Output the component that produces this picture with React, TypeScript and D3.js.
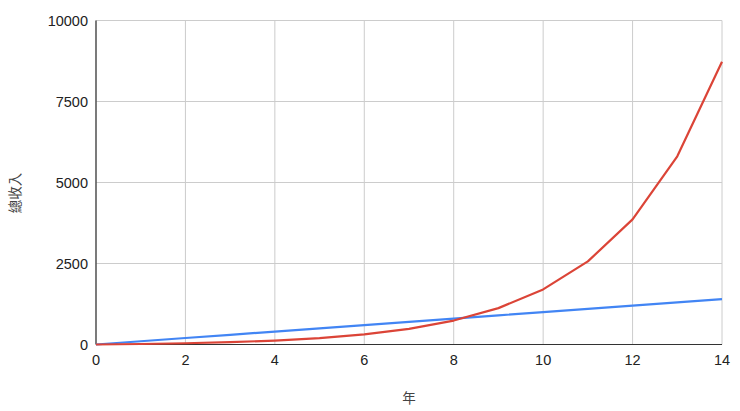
import React from "react";
import * as d3 from "d3";

const years = [0, 1, 2, 3, 4, 5, 6, 7, 8, 9, 10, 11, 12, 13, 14];
const linearIncome = [0, 100, 200, 300, 400, 500, 600, 700, 800, 900, 1000, 1100, 1200, 1300, 1400];
const compoundIncome = [0, 15, 38, 71, 122, 198, 312, 483, 739, 1123, 1700, 2565, 3862, 5808, 8727];
const xTicks = [0, 2, 4, 6, 8, 10, 12, 14];
const yTicks = [0, 2500, 5000, 7500, 10000];
const xTitle = "年";
const yTitle = "總收入";

const W = 740;
const H = 411;
const L = 96;
const R = 722;
const T = 20.5;
const B = 344.5;
const FONT = "Arial, 'Liberation Sans', sans-serif";

export default function App() {
  const x = d3.scaleLinear().domain([0, 14]).range([L, R]);
  const y = d3.scaleLinear().domain([0, 10000]).range([B, T]);
  const line = d3
    .line<number>()
    .x((_, i) => x(years[i]))
    .y((d) => y(d));

  return (
    <svg
      width={W}
      height={H}
      style={{ position: "absolute", left: 0, top: 0, background: "#fff" }}
      fontFamily={FONT}
    >
      <rect x={0} y={0} width={W} height={H} fill="#fff" />
      {yTicks.map((t) => (
        <line key={"gy" + t} x1={L} x2={R} y1={y(t)} y2={y(t)} stroke="#cccccc" strokeWidth={1} />
      ))}
      {xTicks.map((t) => (
        <line key={"gx" + t} x1={x(t)} x2={x(t)} y1={T} y2={B} stroke="#cccccc" strokeWidth={1} />
      ))}
      <line x1={L} x2={L} y1={T} y2={B} stroke="#333333" strokeWidth={1.2} />
      <line x1={L} x2={R} y1={B} y2={B} stroke="#333333" strokeWidth={1.2} />
      <path d={line(linearIncome) || ""} fill="none" stroke="#4285f4" strokeWidth={2.2} strokeLinejoin="round" />
      <path d={line(compoundIncome) || ""} fill="none" stroke="#db4437" strokeWidth={2.2} strokeLinejoin="round" />
      {yTicks.map((t) => (
        <text key={"ty" + t} x={88} y={y(t)} dy="0.35em" textAnchor="end" fontSize={14.5} fill="#222">
          {t}
        </text>
      ))}
      {xTicks.map((t) => (
        <text key={"tx" + t} x={x(t)} y={365} textAnchor="middle" fontSize={14.5} fill="#222">
          {t}
        </text>
      ))}
      <text x={(L + R) / 2} y={403} textAnchor="middle" fontSize={13.5} fill="#444" fontFamily="'Noto Sans CJK TC', sans-serif">
        {xTitle}
      </text>
      <text
        transform={`translate(20, 193) rotate(-90)`}
        textAnchor="middle"
        fontSize={13.5}
        fill="#444"
        fontFamily="'Noto Sans CJK TC', sans-serif"
      >
        {yTitle}
      </text>
    </svg>
  );
}
